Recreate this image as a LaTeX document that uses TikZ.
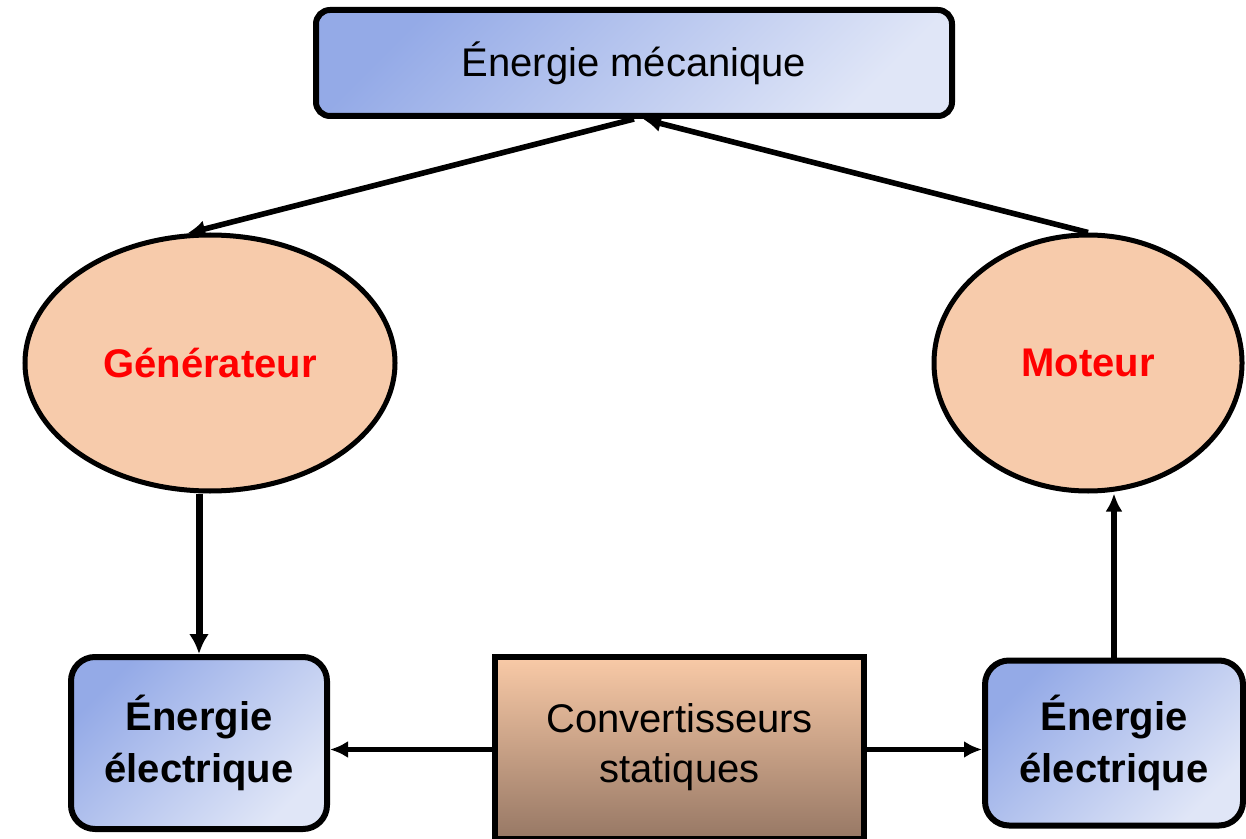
\documentclass[tikz,border=0pt]{standalone}
\usepackage{fontspec}
\setmainfont{Liberation Sans}
\usetikzlibrary{arrows.meta,shapes.geometric}
\definecolor{bleuA}{HTML}{94AAE7}
\definecolor{bleuB}{HTML}{E0E6F7}
\definecolor{peche}{HTML}{F7CBAB}
\definecolor{brunA}{HTML}{F9CAA7}
\definecolor{brunB}{HTML}{977865}
\tikzset{
  energie/.style={draw,line width=3pt,rounded corners=12pt,top color=bleuA,bottom color=bleuB,shading angle=45,inner sep=0,align=center},
  machine/.style={draw,ellipse,line width=2.5pt,fill=peche,inner sep=0,minimum height=128pt,text=red,font=\fontsize{20}{25}\selectfont\bfseries},
  fleche/.style={line width=2.8pt,-{Latex[length=9pt,width=8.5pt]}}
}

\begin{document}
\begin{tikzpicture}[x=0.5pt,y=-0.5pt,font=\fontsize{20}{25}\selectfont]
      \useasboundingbox (0,0) rectangle (1246,839);
      % boites
      \node[energie,rounded corners=7pt,minimum width=318pt,minimum height=53pt] (meca) at (634,63) {Énergie mécanique};
      \node[machine,minimum width=185pt] (gen) at (210,363) {Générateur};
      \node[machine,minimum width=154pt] (mot) at (1088,363) {Moteur};
      \node[energie,minimum width=128pt,minimum height=86pt,font=\fontsize{20}{26}\selectfont\bfseries] (elecG) at (199,743) {Énergie\\électrique};
      \node[energie,minimum width=129pt,minimum height=82.5pt,font=\fontsize{20}{26}\selectfont\bfseries] (elecD) at (1114,743) {Énergie\\électrique};
      \node[draw,line width=3pt,top color=brunA,bottom color=brunB,minimum width=184.5pt,minimum height=91pt,inner sep=0,align=center] (conv) at (679.5,747.5) {Convertisseurs\\statiques};
      % fleches
      \draw[fleche] (meca.south) -- (gen.100);
      \draw[fleche] (mot.north) -- ([xshift=4.5pt]meca.south);
      \draw[line width=3.5pt,-{Latex[length=10pt,width=10pt]}] (gen.south -| elecG.north) -- (elecG.north);
      \draw[fleche] ([yshift=-1pt]conv.west) -- ([yshift=-1pt]conv.west -| elecG.east);
      \draw[fleche] ([yshift=-1pt]conv.east) -- ([yshift=-1pt]conv.east -| elecD.west);
      \draw[fleche] (elecD.north) -- (elecD.north |- mot.south);
    \end{tikzpicture}
\end{document}
